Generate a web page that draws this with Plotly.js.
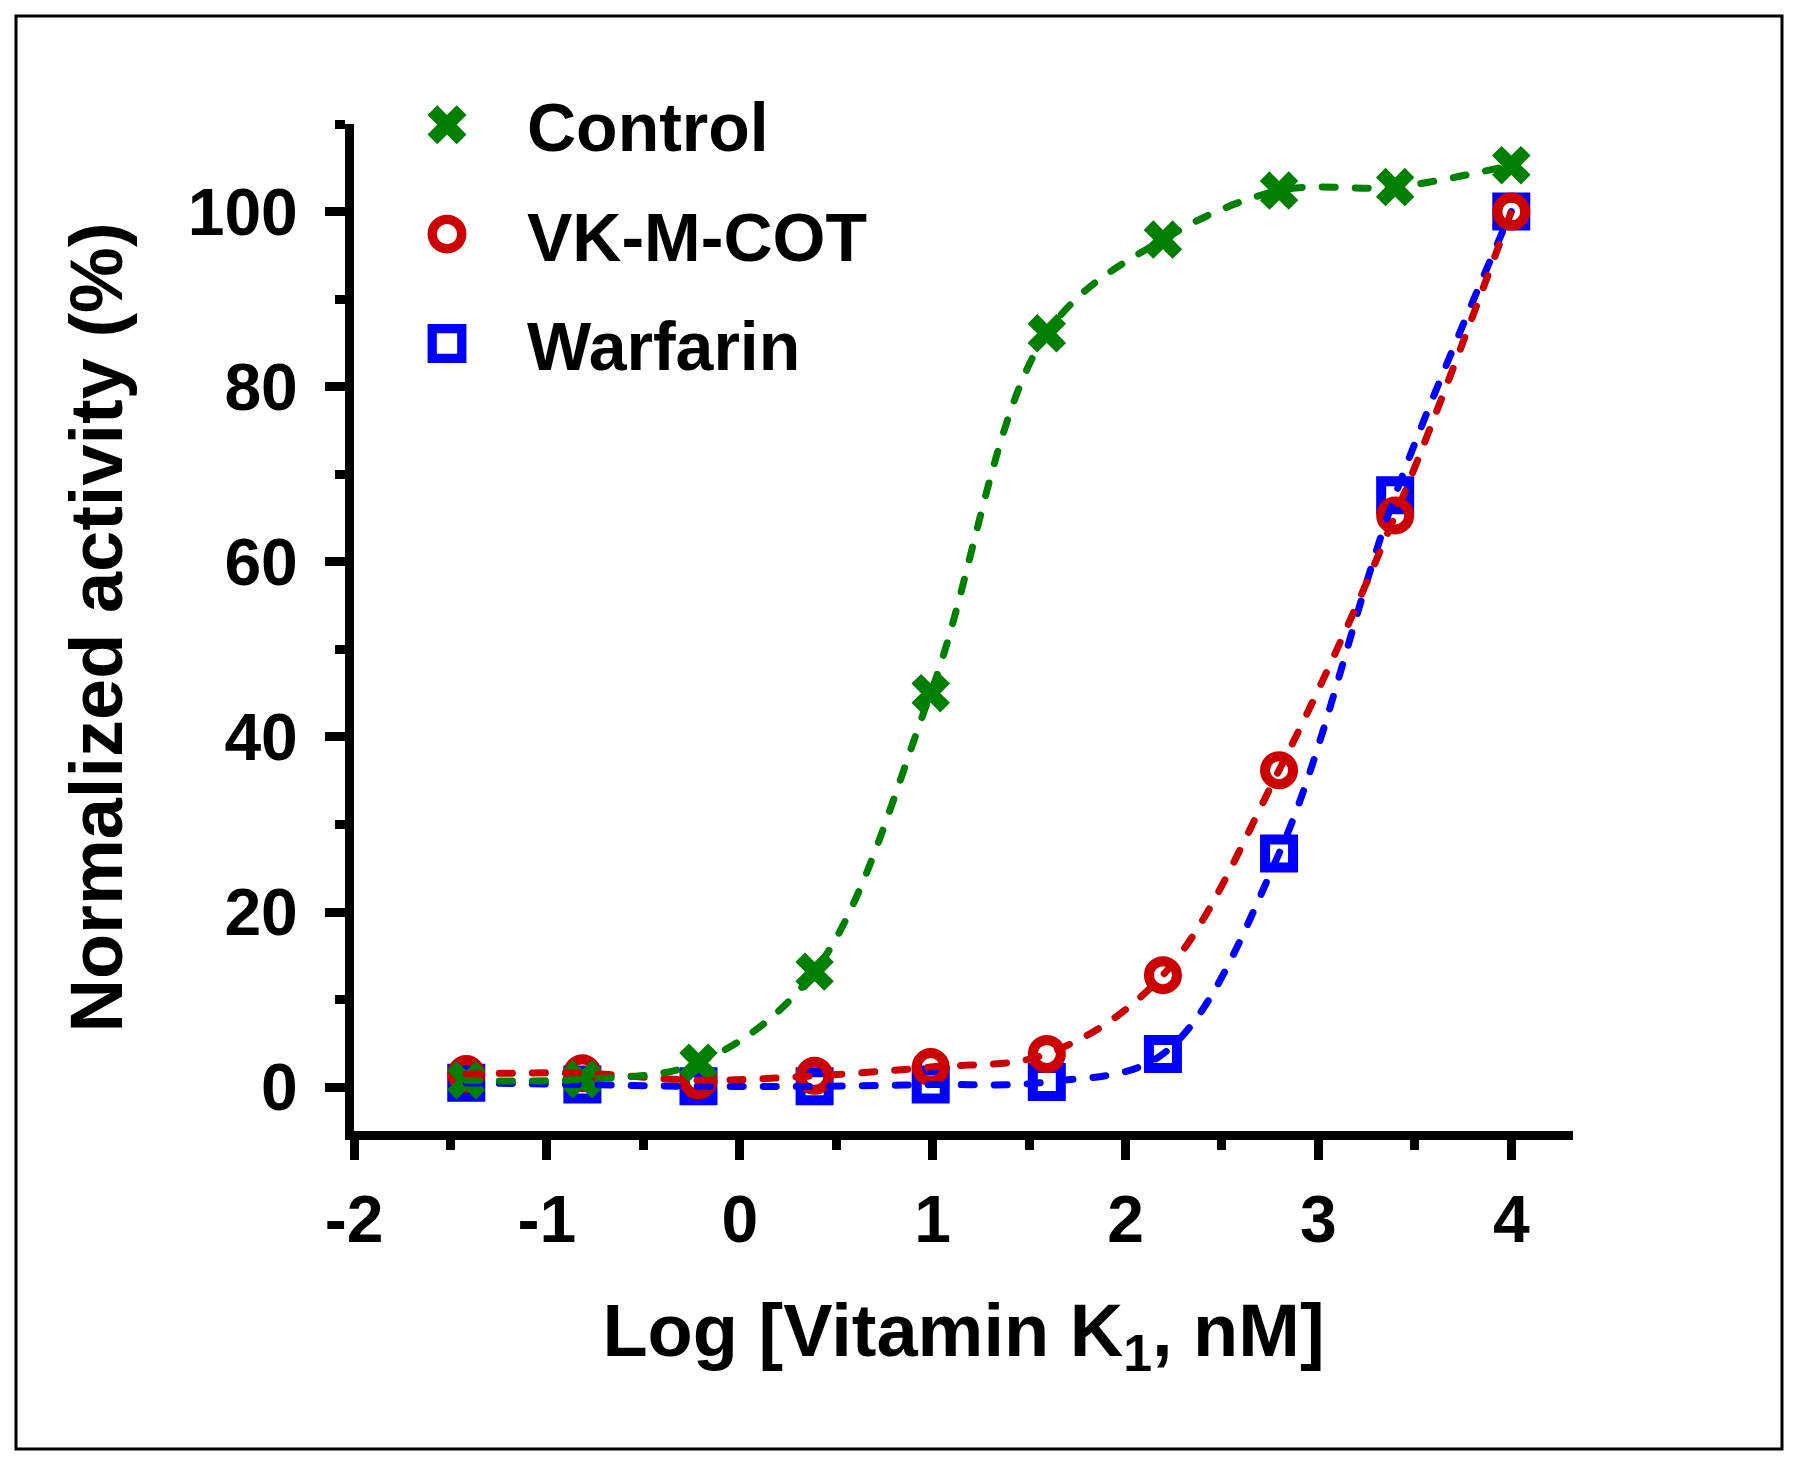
<!DOCTYPE html>
<html>
<head>
<meta charset="utf-8">
<script src="https://cdn.plot.ly/plotly-3.0.1.min.js"></script>
<style>
  html, body { margin: 0; padding: 0; background: #ffffff; }
  #chart { width: 1800px; height: 1467px; }
</style>
</head>
<body>
<div id="chart"></div>
<script>
// ---- data (log10 of vitamin K1 concentration, nM; 4-fold dilutions) ----
const logConc = [-1.418, -0.816, -0.214, 0.388, 0.990, 1.592, 2.194, 2.796, 3.398, 4.0];
const controlActivity = [0.8, 0.9, 2.8, 13.2, 45.0, 86.1, 96.8, 102.4, 102.8, 105.3];
const vkmcotActivity  = [1.5, 1.6, 0.8, 1.3, 2.3, 3.8, 12.8, 36.2, 65.3, 100.0];
const warfarinActivity = [0.5, 0.3, 0.1, 0.1, 0.3, 0.6, 3.8, 26.7, 67.6, 100.0];

const seriesNames = ['Control', 'VK-M-COT', 'Warfarin'];

const xTickVals = [-2, -1, 0, 1, 2, 3, 4];
const xTickText = ['-2', '-1', '0', '1', '2', '3', '4'];
const yTickVals = [0, 20, 40, 60, 80, 100];
const yTickText = ['0', '20', '40', '60', '80', '100'];

// ---- styles ----
const GREEN = '#008000', RED = '#CC0000', BLUE = '#0000FF';
const FONT = 'Liberation Sans, Arial, Helvetica, sans-serif';
const DASH = '13px,20px';

function markerTrace(name, y, color, symbol, rank) {
  const open = symbol !== 'x';
  return {
    x: logConc, y: y, name: name, type: 'scatter', mode: 'markers',
    legendrank: rank, legendgroup: name,
    marker: open
      ? { symbol: symbol, size: 28, color: color, line: { color: color, width: 10 } }
      : { symbol: 'x', size: 34, color: color, line: { width: 0 } },
    hoverinfo: 'skip'
  };
}
function lineTrace(name, y, color) {
  return {
    x: logConc, y: y, name: name, type: 'scatter', mode: 'lines', showlegend: false,
    legendgroup: name,
    line: { color: color, width: 7, dash: DASH, shape: 'spline', smoothing: 1 },
    hoverinfo: 'skip'
  };
}

const traces = [
  markerTrace(seriesNames[2], warfarinActivity, BLUE, 'square-open', 3),
  markerTrace(seriesNames[1], vkmcotActivity, RED, 'circle-open', 2),
  markerTrace(seriesNames[0], controlActivity, GREEN, 'x', 1),
  lineTrace(seriesNames[2], warfarinActivity, BLUE),
  lineTrace(seriesNames[1], vkmcotActivity, RED),
  lineTrace(seriesNames[0], controlActivity, GREEN)
];

const W = 1800, H = 1467;
const M = { l: 354, r: 227, t: 124, b: 336, autoexpand: false };
const pw = W - M.l - M.r, ph = H - M.t - M.b;
// outer frame expressed in paper fractions
const fx0 = (16 - M.l) / pw, fx1 = (1782 - M.l) / pw;
const fy0 = (H - M.b - 1449) / ph, fy1 = (H - M.b - 16) / ph;
// legend placement in paper fractions
const legX = (427 - M.l) / pw, legY = (H - M.b - 74) / ph;

const axisCommon = {
  showline: true, linewidth: 9, linecolor: '#000000',
  ticks: 'outside', ticklen: 20, tickwidth: 9, tickcolor: '#000000',
  showgrid: false, zeroline: false, fixedrange: true, automargin: false,
  tickfont: { family: FONT, size: 66, color: '#000000', weight: 700 }
};

const layout = {
  width: W, height: H, margin: M,
  paper_bgcolor: '#ffffff', plot_bgcolor: '#ffffff',
  showlegend: true,
  legend: {
    xref: 'paper', yref: 'paper', x: legX, y: legY,
    xanchor: 'left', yanchor: 'top',
    font: { family: FONT, size: 68, color: '#000000', weight: 700 },
    traceorder: 'grouped', tracegroupgap: 18, itemwidth: 90,
    bgcolor: 'rgba(0,0,0,0)', borderwidth: 0
  },
  xaxis: Object.assign({}, axisCommon, {
    range: [-2, 4.32], tickmode: 'array', tickvals: xTickVals, ticktext: xTickText,
    ticklabelstandoff: 3,
    minor: { tickmode: 'linear', tick0: -2, dtick: 0.5, ticks: 'outside', ticklen: 10, tickwidth: 9, tickcolor: '#000000', showgrid: false },
    title: { text: 'Log [Vitamin K<sub>1</sub>, nM]', standoff: 52,
             font: { family: FONT, size: 74, color: '#000000', weight: 700 } }
  }),
  yaxis: Object.assign({}, axisCommon, {
    range: [-5, 110], tickmode: 'array', tickvals: yTickVals, ticktext: yTickText,
    ticklabelstandoff: 14,
    minor: { tickmode: 'linear', tick0: 0, dtick: 10, ticks: 'outside', ticklen: 10, tickwidth: 9, tickcolor: '#000000', showgrid: false },
    title: { text: 'Normalized activity (%)', standoff: 44,
             font: { family: FONT, size: 74, color: '#000000', weight: 700 } }
  }),
  shapes: [{
    type: 'rect', xref: 'paper', yref: 'paper',
    x0: fx0, x1: fx1, y0: fy0, y1: fy1,
    line: { color: '#000000', width: 3 }, fillcolor: 'rgba(0,0,0,0)', layer: 'below'
  }]
};

Plotly.newPlot('chart', traces, layout, { staticPlot: true, displayModeBar: false }).then(function (gd) {
  // round dash caps like the reference
  gd.querySelectorAll('.scatterlayer .js-line').forEach(function (p) {
    p.style.strokeLinecap = 'round';
  });
  // enlarge legend symbols (Plotly caps legend marker size)
  const items = gd.querySelectorAll('.legend .traces');
  items.forEach(function (it) {
    const txt = it.querySelector('text.legendtext');
    const tx = txt ? parseFloat(txt.getAttribute('x')) : 40;
    const isX = txt && txt.textContent === seriesNames[0];
    it.querySelectorAll('.legendpoints path.scatterpts').forEach(function (p) {
      p.setAttribute('transform', 'translate(' + (tx - 80) + ',0) scale(' + (isX ? 2.15 : 1.85) + ')');
    });
  });
});
</script>
</body>
</html>
